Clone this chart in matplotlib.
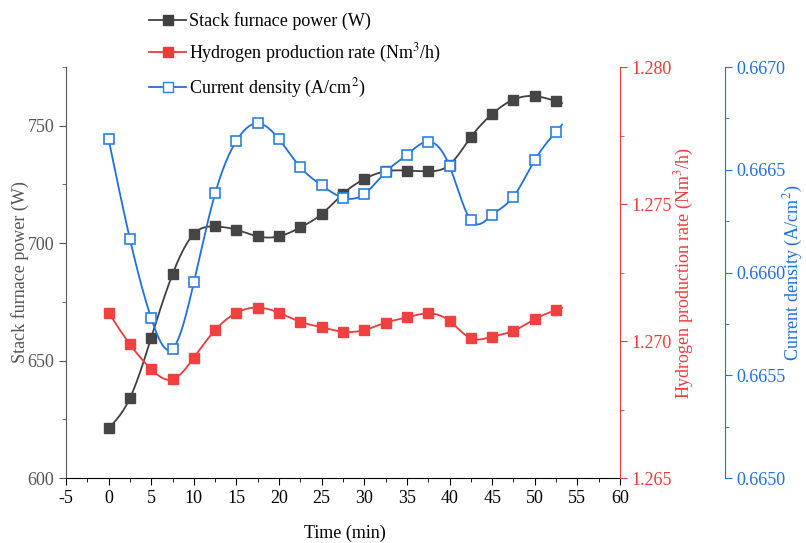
import numpy as np
import matplotlib
matplotlib.use('Agg')
import matplotlib.pyplot as plt
from matplotlib.ticker import MultipleLocator, FormatStrFormatter

plt.rcParams['font.family'] = ['Liberation Serif', 'DejaVu Serif']
plt.rcParams['mathtext.fontset'] = 'stix'
plt.rcParams['axes.unicode_minus'] = False

# data
time = [0, 2.5, 5, 7.5, 10, 12.5, 15, 17.5, 20, 22.5, 25,
        27.5, 30, 32.5, 35, 37.5, 40, 42.5, 45, 47.5, 50, 52.5]
power = [621.2, 634.0, 659.8, 686.8, 703.9, 707.1, 705.7, 702.9, 702.9, 706.7, 712.4,
         721.0, 727.3, 730.6, 730.9, 730.6, 733.4, 745.1, 755.0, 761.1, 762.6, 760.4]
h2_rate = [1.27103, 1.26988, 1.26897, 1.26860, 1.26939, 1.27040, 1.27103, 1.27122, 1.27103, 1.27070, 1.27050,
           1.27034, 1.27040, 1.27067, 1.27086, 1.27101, 1.27073, 1.27010, 1.27016, 1.27037, 1.27080, 1.27113]
current = [0.666648, 0.666163, 0.665777, 0.665629, 0.665952, 0.666385, 0.666641, 0.666726, 0.666648, 0.666512, 0.666424,
           0.666364, 0.666382, 0.666489, 0.666573, 0.666637, 0.666518, 0.666254, 0.666280, 0.666369, 0.666547, 0.666685]

c_black = '#404040'
c_red = '#ee3a3a'
c_blue = '#1f6fdc'


# natural cubic spline through the points (like Origin's spline connection)
def spline(x, y, x_end=None, n=500):
    x = np.asarray(x, float)
    y = np.asarray(y, float)
    k = len(x)
    h = np.diff(x)
    A = np.zeros((k, k))
    b = np.zeros(k)
    A[0, 0] = 1
    A[-1, -1] = 1
    for i in range(1, k - 1):
        A[i, i - 1] = h[i - 1]
        A[i, i] = 2 * (h[i - 1] + h[i])
        A[i, i + 1] = h[i]
        b[i] = 6 * ((y[i + 1] - y[i]) / h[i] - (y[i] - y[i - 1]) / h[i - 1])
    M = np.linalg.solve(A, b)
    if x_end is None:
        x_end = x[-1]
    xs = np.linspace(x[0], x_end, n)
    idx = np.clip(np.searchsorted(x, xs) - 1, 0, k - 2)
    x0, x1 = x[idx], x[idx + 1]
    hh = x1 - x0
    a = (x1 - xs) / hh
    bb = (xs - x0) / hh
    ys = (a * y[idx] + bb * y[idx + 1]
          + ((a ** 3 - a) * M[idx] + (bb ** 3 - bb) * M[idx + 1]) * hh ** 2 / 6)
    return xs, ys


fig = plt.figure(figsize=(8.06, 5.43), dpi=100)
ax = fig.add_axes([0.0819, 0.1197, 0.6873, 0.7569])
ax2 = ax.twinx()
ax3 = ax.twinx()
ax3.spines['right'].set_position(('axes', 1.1895))

ms = 7.5
xs, ys = spline(time, power, 53.2)
ax.plot(xs, ys, color=c_black, lw=1.3)
ax.plot(time, power, 's', color='#454545', ms=ms)
xs, ys = spline(time, h2_rate, 53.2)
ax2.plot(xs, ys, color=c_red, lw=1.3)
ax2.plot(time, h2_rate, 's', color='#f04040', ms=ms)
xs, ys = spline(time, current, 53.2)
ax3.plot(xs, ys, color=c_blue, lw=1.3)
ax3.plot(time, current, 's', mfc='white', mec='#2a80e8', mew=1.2, ms=ms)

ax.set_xlim(-5, 60)
ax.set_ylim(600, 775)
ax2.set_ylim(1.265, 1.280)
ax3.set_ylim(0.6650, 0.6670)

ax.xaxis.set_major_locator(MultipleLocator(5))
ax.xaxis.set_minor_locator(MultipleLocator(2.5))
ax.yaxis.set_major_locator(MultipleLocator(50))
ax.yaxis.set_minor_locator(MultipleLocator(25))
ax2.yaxis.set_major_locator(MultipleLocator(0.005))
ax2.yaxis.set_minor_locator(MultipleLocator(0.0025))
ax2.yaxis.set_major_formatter(FormatStrFormatter('%.3f'))
ax3.yaxis.set_major_locator(MultipleLocator(0.0005))
ax3.yaxis.set_minor_locator(MultipleLocator(0.00025))
ax3.yaxis.set_major_formatter(FormatStrFormatter('%.4f'))

for a in (ax, ax2, ax3):
    a.spines['top'].set_visible(False)
ax.spines['right'].set_visible(False)
ax2.spines['left'].set_visible(False)
ax3.spines['left'].set_visible(False)
ax2.spines['bottom'].set_visible(False)
ax3.spines['bottom'].set_visible(False)

ax.spines['left'].set_color('#555555')
ax.spines['bottom'].set_color('black')
ax2.spines['right'].set_color(c_red)
ax3.spines['right'].set_color(c_blue)

fs = 13
ax.tick_params(axis='x', which='major', direction='out', length=5, labelsize=fs, colors='black')
ax.tick_params(axis='x', which='minor', direction='out', length=3, colors='black')
ax.tick_params(axis='y', which='major', direction='out', length=5, labelsize=fs, colors='#555555')
ax.tick_params(axis='y', which='minor', direction='out', length=3, colors='#555555')
ax2.tick_params(axis='y', which='both', direction='out', colors=c_red, labelsize=fs)
ax2.tick_params(axis='y', which='major', length=5)
ax2.tick_params(axis='y', which='minor', length=3)
ax3.tick_params(axis='y', which='both', direction='out', colors=c_blue, labelsize=fs)
ax3.tick_params(axis='y', which='major', length=5)
ax3.tick_params(axis='y', which='minor', length=3)

ax.set_xlabel('Time (min)', fontsize=13)
ax.set_ylabel('Stack furnace power (W)', fontsize=13, color='#555555')
ax2.set_ylabel('Hydrogen production rate (Nm$^3$/h)', fontsize=13, color=c_red)
ax3.set_ylabel('Current density (A/cm$^2$)', fontsize=13, color=c_blue)
ax.xaxis.set_label_coords(0.504, -0.134)
ax.yaxis.set_label_coords(-0.083, 0.5)
ax2.yaxis.set_label_coords(1.117, 0.5)
ax3.yaxis.set_label_coords(1.313, 0.5)
ax.xaxis.label.set_va('center')
ax.yaxis.label.set_va('center')
ax2.yaxis.label.set_va('center')
ax3.yaxis.label.set_va('center')

h1, = ax.plot([], [], '-s', color=c_black, ms=ms, lw=1.3)
h2, = ax.plot([], [], '-s', color=c_red, ms=ms, lw=1.3)
h3, = ax.plot([], [], '-s', color=c_blue, mfc='white', mec='#2a80e8', ms=ms, lw=1.3)
fig.legend([h1, h2, h3],
           ['Stack furnace power (W)', 'Hydrogen production rate (Nm$^3$/h)',
            'Current density (A/cm$^2$)'],
           loc='upper left', bbox_to_anchor=(0.172, 0.997), frameon=False,
           fontsize=13, handlelength=2.0, handletextpad=0.2, labelspacing=0.65,
           borderaxespad=0.2)

fig.savefig('out.png', dpi=100)
